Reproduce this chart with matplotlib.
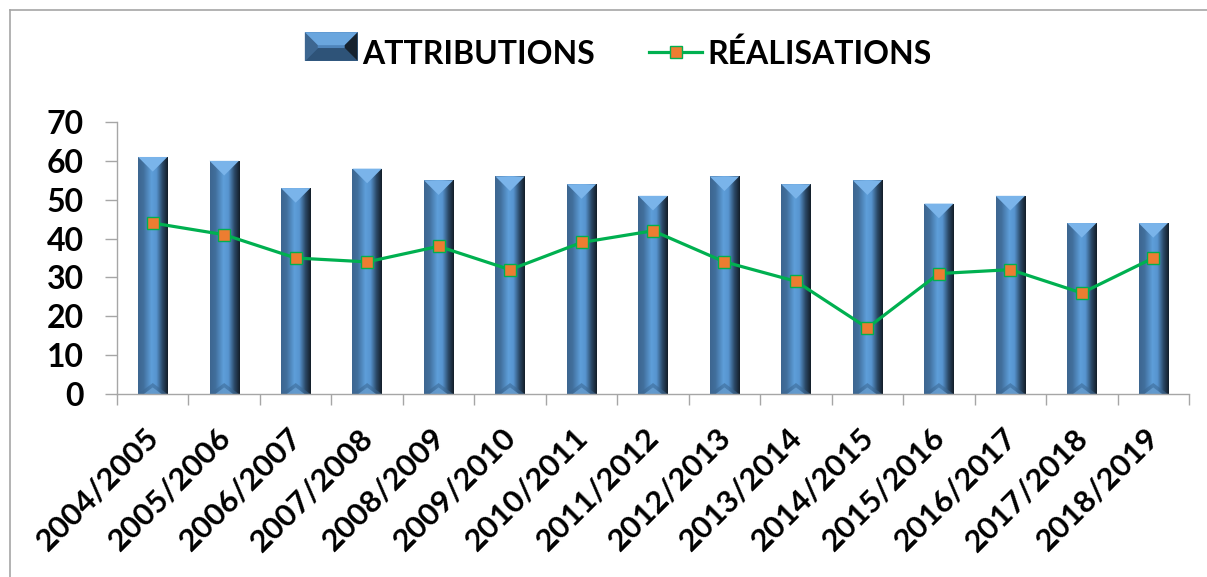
import matplotlib
matplotlib.use("Agg")
import matplotlib.pyplot as plt
import numpy as np
from matplotlib.colors import LinearSegmentedColormap
from matplotlib.patches import Polygon, Rectangle
from matplotlib.legend_handler import HandlerBase
from matplotlib.lines import Line2D
import matplotlib.transforms as mtransforms

saisons = ["2004/2005", "2005/2006", "2006/2007", "2007/2008", "2008/2009",
           "2009/2010", "2010/2011", "2011/2012", "2012/2013", "2013/2014",
           "2014/2015", "2015/2016", "2016/2017", "2017/2018", "2018/2019"]
attributions = [61, 60, 53, 58, 55, 56, 54, 51, 56, 54, 55, 49, 51, 44, 44]
realisations = [44, 41, 35, 34, 38, 32, 39, 42, 34, 29, 17, 31, 32, 26, 35]

plt.rcParams["font.family"] = ["Lato", "DejaVu Sans"]
plt.rcParams["font.weight"] = "bold"

fig = plt.figure(figsize=(12.07, 5.77), dpi=100)
ax = fig.add_axes([117 / 1207, 1 - 394 / 577, (1189 - 117) / 1207, 272 / 577])

# dégradé horizontal du "biseau" des barres
cmap_barre = LinearSegmentedColormap.from_list("biseau", [
    (0.0, "#3d6690"), (0.18, "#416f9c"), (0.45, "#5e9fda"),
    (0.62, "#5794cf"), (0.82, "#2b4967"), (1.0, "#131d28")])
grad = np.linspace(0, 1, 128).reshape(1, -1)

x = np.arange(len(saisons))
larg = 0.41
barres = ax.bar(x, attributions, width=larg, color="#4f85bb", zorder=2)

px_par_unite = 272 / 70
prof = (larg * 1072 / 15 / 2) / px_par_unite  # profondeur du biseau en unités y
for b in barres:
    x0, w, h = b.get_x(), b.get_width(), b.get_height()
    im = ax.imshow(grad, cmap=cmap_barre, aspect="auto",
                   extent=[x0, x0 + w, 0, h], zorder=2.1)
    im.set_clip_path(b)
    ax.add_patch(Polygon([[x0, h], [x0 + w, h], [x0 + w / 2, h - prof]],
                         closed=True, facecolor="#7ab4ea", edgecolor="none",
                         zorder=2.4))
    ax.add_patch(Polygon([[x0, 0], [x0 + w, 0], [x0 + w / 2, prof * 0.75]],
                         closed=True, facecolor="#3b6792", edgecolor="none",
                         alpha=0.55, zorder=2.4))
    ax.add_patch(Polygon([[x0 + w * 0.2, 0], [x0 + w * 0.8, 0],
                          [x0 + w / 2, prof * 0.45]],
                         closed=True, facecolor="#6ea6da", edgecolor="none",
                         alpha=0.7, zorder=2.5))

ax.plot(x, realisations, color="#00b050", lw=2.3, marker="s", markersize=9,
        markerfacecolor="#ed7d31", markeredgecolor="#00b050",
        markeredgewidth=1.0, zorder=3)

ax.set_xlim(-0.5, len(saisons) - 0.5)
ax.set_ylim(0, 70)
ax.set_yticks(range(0, 71, 10))
ax.tick_params(axis="y", labelsize=23, length=9, width=1, color="#a6a6a6",
               pad=15)
ax.set_xticks(x)
ax.set_xticklabels(saisons, rotation=45, ha="right", rotation_mode="anchor",
                   fontsize=22.5)
ax.tick_params(axis="x", length=0, pad=21)
ax.set_xticks(np.arange(-0.5, len(saisons)), minor=True)
ax.tick_params(axis="x", which="minor", length=8, width=1, color="#a6a6a6")
decal = mtransforms.ScaledTranslation(-6 / 72, 0, fig.dpi_scale_trans)
for lab in ax.get_xticklabels():
    lab.set_transform(lab.get_transform() + decal)

for s in ["top", "right"]:
    ax.spines[s].set_visible(False)
for s in ["left", "bottom"]:
    ax.spines[s].set_color("#a6a6a6")
    ax.spines[s].set_linewidth(1)


class HandlerBiseau(HandlerBase):
    def create_artists(self, legend, orig, xd, yd, w, h, fontsize, trans):
        d = h * 0.45
        r = Rectangle((xd, yd), w, h, facecolor="#4f85bb", edgecolor="none",
                      transform=trans)
        haut = Polygon([[xd, yd + h], [xd + w, yd + h], [xd + w - d, yd + h - d],
                        [xd + d, yd + h - d]], facecolor="#6aa6de",
                       edgecolor="none", transform=trans)
        bas = Polygon([[xd, yd], [xd + w, yd], [xd + w - d, yd + d],
                       [xd + d, yd + d]], facecolor="#2e5378",
                      edgecolor="none", transform=trans)
        gauche = Polygon([[xd, yd], [xd + d, yd + d], [xd + d, yd + h - d],
                          [xd, yd + h]], facecolor="#3d6690",
                         edgecolor="none", transform=trans)
        droite = Polygon([[xd + w, yd], [xd + w - d, yd + d],
                          [xd + w - d, yd + h - d], [xd + w, yd + h]],
                         facecolor="#16222e", edgecolor="none", transform=trans)
        return [r, haut, bas, gauche, droite]


poignee_ligne = Line2D([], [], color="#00b050", lw=2.3, marker="s",
                       markersize=9, markerfacecolor="#ed7d31",
                       markeredgecolor="#00b050")
fig.legend([barres, poignee_ligne], ["ATTRIBUTIONS", "RÉALISATIONS"],
           handler_map={type(barres): HandlerBiseau()},
           loc="center", bbox_to_anchor=(618 / 1207, 1 - 54 / 577), ncol=2,
           frameon=False, fontsize=23, handlelength=1.65, handleheight=1.0,
           handletextpad=0.15, columnspacing=1.7)

# cadre du graphique (gauche et haut seulement visibles)
fig.add_artist(Line2D([10 / 1207, 10 / 1207], [0, 1 - 10 / 577],
                      transform=fig.transFigure, color="#a6a6a6", lw=1.2))
fig.add_artist(Line2D([10 / 1207, 1], [1 - 10 / 577, 1 - 10 / 577],
                      transform=fig.transFigure, color="#a6a6a6", lw=1.2))

fig.savefig("out.png", dpi=100)
